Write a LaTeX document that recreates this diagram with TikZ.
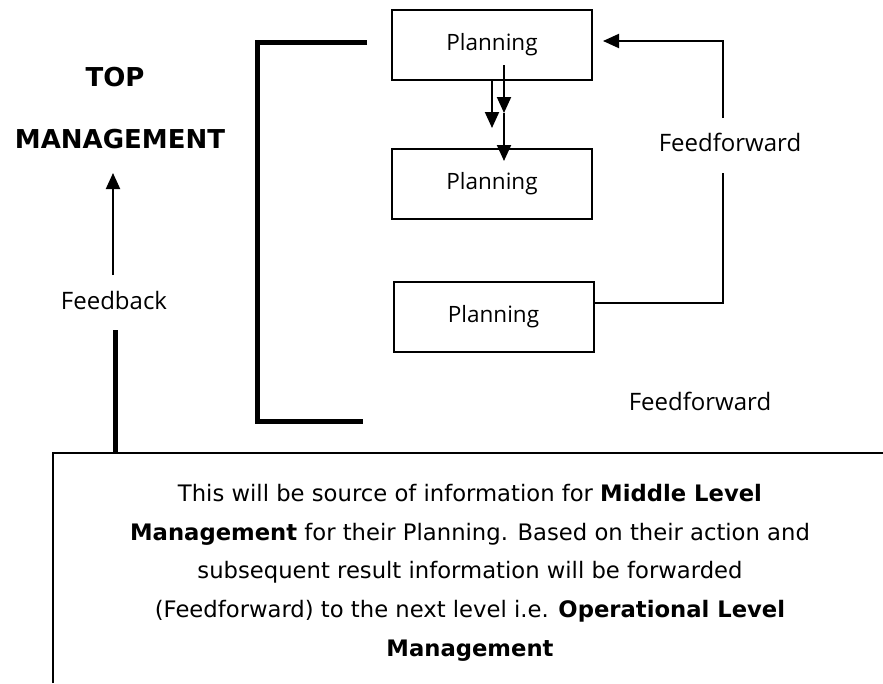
\documentclass[tikz,border=0pt]{standalone}
\usepackage{fontspec}
\setmainfont{Open Sans}
\newfontfamily\tagfont{DejaVu Sans}
\usetikzlibrary{arrows.meta,positioning}
\tikzset{
  >={Triangle[length=16pt,width=14pt]},
  plan/.style={draw,line width=2pt,minimum width=200pt,minimum height=70pt,
               inner sep=0pt,font=\fontsize{22.5}{26}\selectfont},
  tag/.style={font=\fontsize{24}{28}\selectfont},
  head/.style={font=\tagfont\bfseries\fontsize{26}{30}\selectfont},
  note/.style={align=center,inner sep=0pt,font=\tagfont\fontsize{22.7}{38.7}\selectfont},
  bar/.style={line width=5pt},
  wire/.style={line width=2pt},
  flow/.style={wire,->},
}

\begin{document}
\begin{tikzpicture}[x=1pt,y=-1pt]
  \useasboundingbox (0,0) rectangle (883,683);

  % ---- the three planning levels ----
  \node[plan] (p1) at (492,45)    {Planning};
  \node[plan] (p2) at (492,184)   {Planning};
  \node[plan] (p3) at (493.5,317) {Planning};

  % ---- bracket round the levels ----
  \coordinate (bt) at (367,42);
  \coordinate (bb) at (363,421);
  \draw[bar] (bt) -- ++(-110,0) |- (bb);

  % ---- top level passes down to the middle level ----
  \coordinate (d1) at (492,128);
  \coordinate (d2) at (504,65);
  \coordinate (d3) at (504,113);
  \coordinate (d4) at (504,161);
  \draw[flow] (p1.south -| d1) -- (d1);
  \draw[flow] (d2) -- (d3);
  \draw[flow] (d3) -- (d4);

  % ---- feedforward loop on the right ----
  \node[tag] (ff1) at (730,142) {Feedforward};
  \node[tag] (ff2) at (700,401) {Feedforward};
  \coordinate (fa) at (723,303);
  \coordinate (fb) at (723,173);
  \coordinate (fc) at (723,118);
  \coordinate (fd) at (723,41);
  \draw[wire] (p3.east |- fa) -- (fa) -- (fb);
  \draw[flow,shorten >=10pt] (fc) -- (fd) -- (p1.east |- fd);

  % ---- feedback up to top management ----
  \node[head] (top)  at (115,77)  {TOP};
  \node[head] (mgmt) at (120,139) {MANAGEMENT};
  \node[tag]  (fbk)  at (114,300) {Feedback};
  \coordinate (ua) at (113,275);
  \coordinate (ub) at (113,173);
  \coordinate (uc) at (115,330);
  \draw[flow] (ua) -- (ub);

  % ---- note at the foot ----
  \coordinate (nl) at (53,683);
  \coordinate (nc) at (53,453);
  \coordinate (nr) at (883,453);
  \draw[wire] (nl) -- (nc) -- (nr);
  \draw[bar] (uc) -- (uc |- nc);
  \node[note,anchor=north] (note) at (470,484) {This will be source of information for \textbf{Middle Level}\\
    \textbf{Management} for their Planning. Based on their action and\\
    subsequent result information will be forwarded\\
    (Feedforward) to the next level i.e. \textbf{Operational Level}\\
    \textbf{Management}};
\end{tikzpicture}
\end{document}
